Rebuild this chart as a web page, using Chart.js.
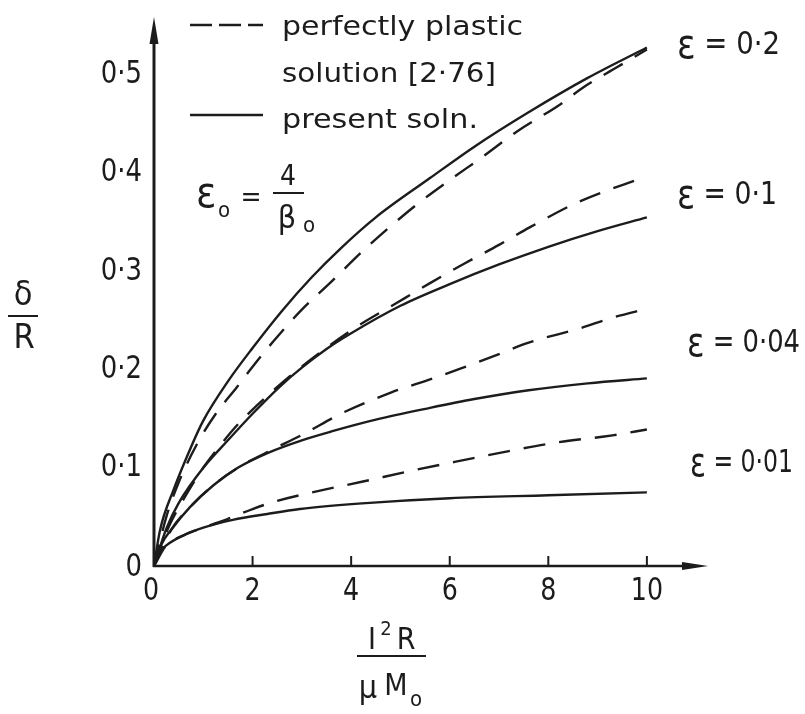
<!DOCTYPE html>
<html>
<head>
<meta charset="utf-8">
<script src="https://cdn.jsdelivr.net/npm/chart.js@4.4.1/dist/chart.umd.min.js"></script>
<style>
  html, body { margin: 0; padding: 0; background: #fff; }
  canvas { display: block; }
</style>
</head>
<body>
<canvas id="chart" width="805" height="714"></canvas>
<script>
// Axes
const xTicks = [0, 2, 4, 6, 8, 10];
const yTicks = [0, 0.1, 0.2, 0.3, 0.4, 0.5];
const yTickLabels = ['0', '0·1', '0·2', '0·3', '0·4', '0·5'];
const xMax = 11.24;
const yMax = 0.559;

// eps = 0.2
const x02Present = [0, 0.12, 0.4, 0.75, 1, 1.5, 2, 2.6, 3.2, 3.8, 4.5, 5.6, 6.5, 7.6, 8.8, 10];
const y02Present = [0, 0.036, 0.078, 0.121, 0.148, 0.188, 0.222, 0.26, 0.294, 0.324, 0.355, 0.395, 0.427, 0.462, 0.497, 0.528];
const x02Plastic = [0, 0.25, 0.5, 0.87, 1.24, 1.68, 2, 2.41, 2.96, 3.61, 4.24, 5.33, 6, 6.65, 7.38, 8.24, 8.7, 9.4, 10];
const y02Plastic = [0, 0.05, 0.085, 0.124, 0.154, 0.182, 0.203, 0.228, 0.259, 0.29, 0.321, 0.368, 0.393, 0.416, 0.443, 0.47, 0.487, 0.508, 0.526];

// eps = 0.1
const x01Present = [0, 0.25, 0.5, 1, 1.5, 2, 2.56, 3, 3.5, 4, 5, 6, 7, 8, 9, 10];
const y01Present = [0, 0.038, 0.064, 0.1, 0.128, 0.155, 0.183, 0.202, 0.221, 0.237, 0.265, 0.287, 0.307, 0.325, 0.341, 0.355];
const x01Plastic = [0, 0.3, 0.6, 0.97, 1.3, 1.68, 2.1, 2.56, 3.23, 4, 4.93, 5.6, 6.3, 7, 7.63, 8.58, 10];
const y01Plastic = [0, 0.04, 0.068, 0.098, 0.12, 0.143, 0.164, 0.185, 0.212, 0.24, 0.268, 0.288, 0.308, 0.327, 0.345, 0.37, 0.397];

// eps = 0.04
const x004Present = [0, 0.15, 0.35, 0.73, 1.2, 1.7, 2.3, 3, 3.6, 4.5, 5.6, 6.5, 7.6, 8.8, 10];
const y004Present = [0, 0.022, 0.037, 0.06, 0.082, 0.1, 0.115, 0.128, 0.137, 0.149, 0.161, 0.17, 0.179, 0.186, 0.191];
const x004Plastic = [0, 0.35, 0.73, 1.2, 1.7, 2.3, 3.02, 3.83, 4.83, 5.6, 6.27, 6.96, 7.57, 8.64, 9.31, 10];
const y004Plastic = [0, 0.037, 0.06, 0.082, 0.1, 0.116, 0.134, 0.156, 0.177, 0.19, 0.202, 0.215, 0.227, 0.242, 0.253, 0.262];

// eps = 0.01
const x001Present = [0, 0.1, 0.25, 0.59, 1, 1.6, 2.3, 2.96, 4.3, 6, 8, 10];
const y001Present = [0, 0.013, 0.021, 0.031, 0.039, 0.047, 0.053, 0.058, 0.064, 0.069, 0.072, 0.075];
const x001Plastic = [0, 0.25, 0.59, 1, 1.5, 2, 2.41, 3.3, 4.24, 5.13, 6.1, 7.2, 8.2, 9.3, 10];
const y001Plastic = [0, 0.021, 0.031, 0.039, 0.048, 0.058, 0.065, 0.076, 0.086, 0.096, 0.106, 0.117, 0.126, 0.133, 0.139];

const curveLabels = ['0·2', '0·1', '0·04', '0·01'];

const INK = '#1c1c1c';
const NARROW = '"Liberation Sans Narrow", "DejaVu Sans Condensed", "Open Sans", sans-serif';
const WIDE = '"DejaVu Sans", "Open Sans", sans-serif';

function pts(xs, ys) {
    return xs.map((x, i) => ({ x: x, y: ys[i] }));
}

function curve(label, xs, ys, dashed) {
    return {
        label: label,
        data: pts(xs, ys),
        borderColor: INK,
        borderWidth: 2.4,
        borderDash: dashed ? [22, 14] : [],
        pointRadius: 0,
        fill: false,
        cubicInterpolationMode: 'monotone'
    };
}

// text squeezed or stretched horizontally by sx
function txt(ctx, s, x, y, size, family, align, baseline, sx) {
    sx = sx || 1;
    ctx.save();
    ctx.font = size + 'px ' + family;
    ctx.textAlign = align || 'left';
    ctx.textBaseline = baseline || 'middle';
    ctx.translate(x, y);
    ctx.scale(sx, 1);
    ctx.fillText(s, 0, 0);
    const w = ctx.measureText(s).width * sx;
    ctx.restore();
    return w;
}

// text drawn from x so that it spans the given width
function txtFit(ctx, s, x, y, size, family, width, baseline) {
    ctx.font = size + 'px ' + family;
    const sx = width / ctx.measureText(s).width;
    return txt(ctx, s, x, y, size, family, 'left', baseline, sx);
}

// "ε = value" with a larger epsilon, spanning a given width
function epsLabel(ctx, x, y, value, width) {
    ctx.font = '40px ' + NARROW;
    const we = ctx.measureText('ε').width;
    ctx.font = '32px ' + NARROW;
    const wr = ctx.measureText(' = ' + value).width;
    const sx = width / (we + wr);
    txt(ctx, 'ε', x, y + 2, 40, NARROW, 'left', 'middle', sx);
    txt(ctx, ' = ' + value, x + we * sx, y, 32, NARROW, 'left', 'middle', sx);
}

const axesPlugin = {
    id: 'axesPlugin',
    beforeDatasetsDraw(chart) {
        const ctx = chart.ctx;
        const X = chart.scales.x, Y = chart.scales.y;
        const x0 = X.getPixelForValue(0), y0 = Y.getPixelForValue(0);
        const top = Y.getPixelForValue(yMax), right = X.getPixelForValue(xMax);
        ctx.save();
        ctx.strokeStyle = INK;
        ctx.fillStyle = INK;

        // y axis with arrow
        ctx.lineWidth = 3;
        ctx.beginPath();
        ctx.moveTo(x0, y0 + 1);
        ctx.lineTo(x0, top + 20);
        ctx.stroke();
        ctx.beginPath();
        ctx.moveTo(x0, top);
        ctx.lineTo(x0 - 4.5, top + 27);
        ctx.lineTo(x0 + 4.5, top + 27);
        ctx.closePath();
        ctx.fill();

        // x axis with arrow
        ctx.lineWidth = 2.5;
        ctx.beginPath();
        ctx.moveTo(x0 - 1, y0);
        ctx.lineTo(right - 20, y0);
        ctx.stroke();
        ctx.beginPath();
        ctx.moveTo(right, y0);
        ctx.lineTo(right - 26, y0 - 4);
        ctx.lineTo(right - 26, y0 + 4);
        ctx.closePath();
        ctx.fill();

        // tick marks on the x axis
        ctx.lineWidth = 2;
        xTicks.forEach(v => {
            if (v === 0) return;
            const px = X.getPixelForValue(v);
            ctx.beginPath();
            ctx.moveTo(px, y0);
            ctx.lineTo(px, y0 - 10);
            ctx.stroke();
        });
        ctx.restore();
    },
    afterDraw(chart) {
        const ctx = chart.ctx;
        const X = chart.scales.x, Y = chart.scales.y;
        const x0 = X.getPixelForValue(0), y0 = Y.getPixelForValue(0);
        ctx.save();
        ctx.fillStyle = INK;
        ctx.strokeStyle = INK;

        // tick labels
        xTicks.forEach(v => {
            txt(ctx, String(v), X.getPixelForValue(v) - (v === 0 ? 3 : 0), y0 + 26, 32, NARROW, 'center', 'middle', 0.88);
        });
        yTicks.forEach((v, i) => {
            txt(ctx, yTickLabels[i], x0 - 12, Y.getPixelForValue(v) + (v === 0 ? 2 : 0), 32, NARROW, 'right', 'middle', 0.9);
        });

        // legend
        ctx.lineWidth = 2.4;
        ctx.setLineDash([22, 7]);
        ctx.beginPath();
        ctx.moveTo(190, 25);
        ctx.lineTo(263, 25);
        ctx.stroke();
        ctx.setLineDash([]);
        ctx.beginPath();
        ctx.moveTo(190, 115);
        ctx.lineTo(263, 115);
        ctx.stroke();
        txtFit(ctx, 'perfectly plastic', 282, 35, 27, WIDE, 241, 'alphabetic');
        txtFit(ctx, 'solution [2·76]', 282, 82, 27, WIDE, 214, 'alphabetic');
        txtFit(ctx, 'present soln.', 282, 128, 27, WIDE, 196, 'alphabetic');

        // eps_0 = 4 / beta_0
        txt(ctx, 'ε', 196, 196, 42, NARROW);
        txt(ctx, 'o', 218, 211, 22, NARROW);
        txt(ctx, '=', 251, 199, 28, NARROW, 'center');
        txt(ctx, '4', 288, 178, 28, NARROW, 'center');
        ctx.lineWidth = 2;
        ctx.beginPath();
        ctx.moveTo(273, 193);
        ctx.lineTo(304, 193);
        ctx.stroke();
        txt(ctx, 'β', 287, 220, 32, NARROW, 'center');
        txt(ctx, 'o', 303, 226, 22, NARROW);

        // curve labels
        epsLabel(ctx, 677, 46, curveLabels[0], 103);
        epsLabel(ctx, 677, 196, curveLabels[1], 100);
        epsLabel(ctx, 687, 344, curveLabels[2], 113);
        epsLabel(ctx, 690, 464, curveLabels[3], 103);

        // y axis title: delta / R
        txt(ctx, 'δ', 23, 296, 34, NARROW, 'center');
        ctx.lineWidth = 2;
        ctx.beginPath();
        ctx.moveTo(8, 316);
        ctx.lineTo(38, 316);
        ctx.stroke();
        txt(ctx, 'R', 24, 339, 34, NARROW, 'center');

        // x axis title: I^2 R / mu M_0
        txt(ctx, 'I', 372, 641, 30, NARROW, 'center');
        txt(ctx, '2', 386, 630, 20, NARROW, 'center');
        txt(ctx, 'R', 406, 641, 30, NARROW, 'center');
        ctx.beginPath();
        ctx.moveTo(357, 656);
        ctx.lineTo(426, 656);
        ctx.stroke();
        txt(ctx, 'μ', 368, 690, 32, NARROW, 'center');
        txt(ctx, 'M', 396, 687, 30, NARROW, 'center');
        txt(ctx, 'o', 416, 700, 22, NARROW, 'center');
        ctx.restore();
    }
};

new Chart(document.getElementById('chart').getContext('2d'), {
    type: 'line',
    data: {
        datasets: [
            curve('ε = 0·2 present', x02Present, y02Present, false),
            curve('ε = 0·2 plastic', x02Plastic, y02Plastic, true),
            curve('ε = 0·1 present', x01Present, y01Present, false),
            curve('ε = 0·1 plastic', x01Plastic, y01Plastic, true),
            curve('ε = 0·04 present', x004Present, y004Present, false),
            curve('ε = 0·04 plastic', x004Plastic, y004Plastic, true),
            curve('ε = 0·01 present', x001Present, y001Present, false),
            curve('ε = 0·01 plastic', x001Plastic, y001Plastic, true)
        ]
    },
    options: {
        responsive: false,
        animation: false,
        layout: { padding: { left: 154, top: 17, right: 97, bottom: 148 } },
        plugins: {
            legend: { display: false },
            tooltip: { enabled: false }
        },
        scales: {
            x: { type: 'linear', min: 0, max: xMax, display: false },
            y: { type: 'linear', min: 0, max: yMax, display: false }
        }
    },
    plugins: [axesPlugin]
});
</script>
</body>
</html>
